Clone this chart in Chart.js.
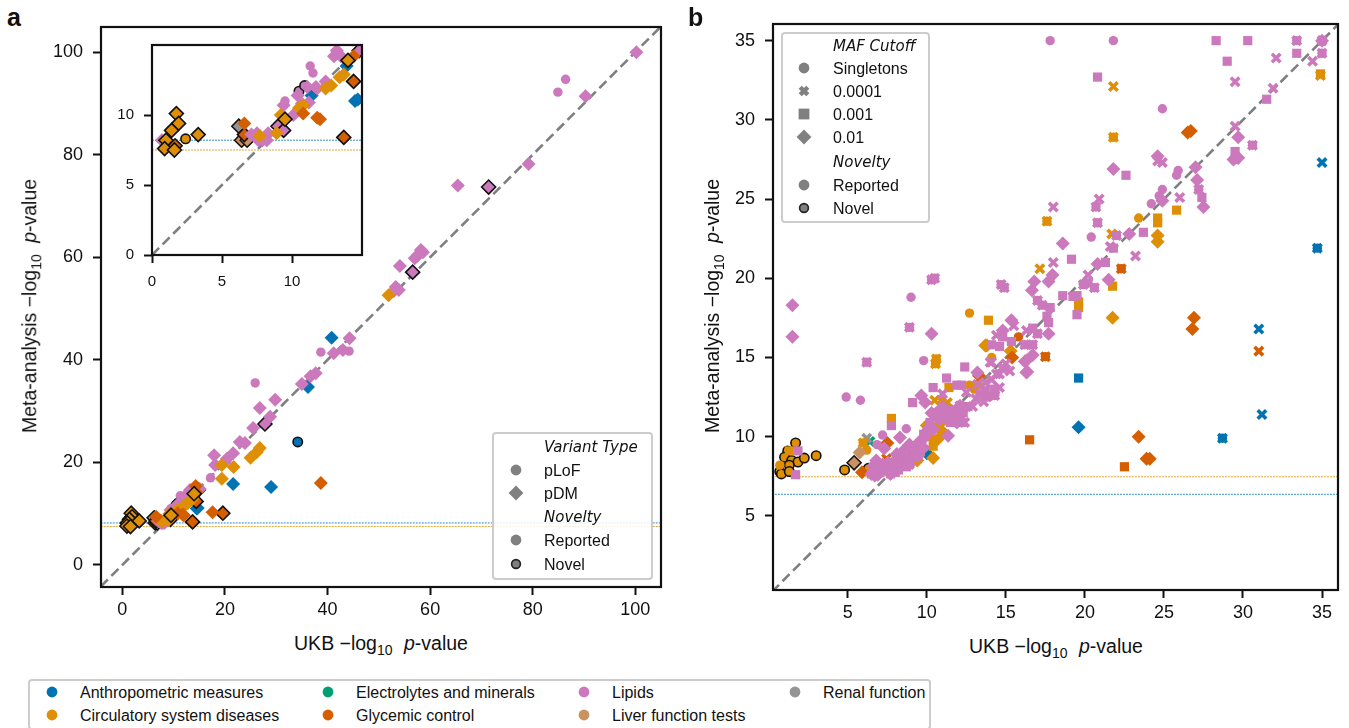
<!DOCTYPE html>
<html>
<head>
<meta charset="utf-8">
<title>UKB vs meta-analysis</title>
<script src="https://cdn.jsdelivr.net/npm/chart.js@4"></script>
<style>
  html, body { margin: 0; padding: 0; background: #fff; }
  body { width: 1349px; height: 728px; overflow: hidden; position: relative; font-family: "Liberation Sans", sans-serif; color: #111; }
  canvas { position: absolute; }
  .label { position: absolute; white-space: nowrap; line-height: 1; }
  .title { font-size: 19.5px; transform: translate(-50%, -50%); }
  .title.rot { transform: translate(-50%, -50%) rotate(-90deg); }
  .title sub { font-size: 14px; line-height: 0; margin-right: 6px; }
  .panel { font-size: 25px; font-weight: bold; }
  .box { position: absolute; box-sizing: border-box; border: 2.5px solid #ccc; border-radius: 4px; background: rgba(255,255,255,.85); }
  .legend { font-size: 16px; transform: translateY(-50%); margin-top: 1px; }
  .legend.head { font-family: "DejaVu Sans", sans-serif; font-style: italic; font-size: 15px; }
  svg.mark { position: absolute; overflow: visible; width: 1px; height: 1px; }
</style>
</head>
<body>
<canvas id="chartA"></canvas>
<canvas id="chartInset"></canvas>
<canvas id="chartB"></canvas>
<div class="label panel" style="left:7px;top:5px">a</div>
<div class="label panel" style="left:688px;top:5px">b</div>
<div class="label title" style="left:381px;top:644px">UKB −log<sub>10</sub> <i>p</i>-value</div>
<div class="label title" style="left:1056px;top:647px">UKB −log<sub>10</sub> <i>p</i>-value</div>
<div class="label title rot" style="left:30px;top:306px">Meta-analysis −log<sub>10</sub> <i>p</i>-value</div>
<div class="label title rot" style="left:713px;top:306px">Meta-analysis −log<sub>10</sub> <i>p</i>-value</div>
<div id="legends"></div>

<script>
const categories = ['Anthropometric measures', 'Circulatory system diseases', 'Electrolytes and minerals', 'Glycemic control', 'Lipids', 'Liver function tests', 'Renal function'];
const categoryColors = ['#0173b2', '#de8f05', '#029e73', '#d55e00', '#cc78bc', '#ca9161', '#949494'];
const variantTypes = ['pLoF', 'pDM'];
const mafCutoffs = ['Singletons', '0.0001', '0.001', '0.01'];
const noveltyLabels = ['Reported', 'Novel'];
const ticksA = [0, 20, 40, 60, 80, 100];
const ticksInset = [0, 5, 10];
const ticksB = [5, 10, 15, 20, 25, 30, 35];
const thresholdsA = [8.2, 7.5];
const thresholdsB = [6.36, 7.47];

// panel a, [UKB, meta]
const aAnthroDiamond = [[40.8,44.3],[36.2,34.7],[21.6,15.8],[29,15.2],[14.7,11.1],[11.4,11.4],[14.5,11],[13.9,13.5]];
const aAnthroCircleNovel = [[34.2,24]];
const aLipidDiamond = [[100.2,100],[90.3,91.4],[79.2,78.2],[65.4,74],[58.2,61.4],[58.6,61],[57.6,60.4],[57,59.8],[54.1,58.3],[53.3,54.2],[53.9,53.6],[52.9,53.4],[44.3,44.2],[43,41.9],[41.2,41.3],[35,35.3],[36.7,36.8],[37.7,37.4],[26.8,30.6],[29.8,32.2],[28.8,28.9],[25.5,26.7],[22.9,24],[23.9,23.8],[21.6,21.8],[20.4,20.7],[17.9,21.4],[18.1,19.5],[15.1,14.8],[13.2,14.6],[13,14.2],[13.5,14.2],[10.4,11.4],[11.1,12],[11.7,12],[12.4,12.4],[11.8,11.9],[11.2,10.9],[10.7,10.8],[9.4,10.7],[10.1,10],[0.7,8.2],[7.1,8.6],[7.5,8.7],[7.9,8.2],[8.2,8.2],[8.3,8.7],[7.6,8.2]];
const aLipidDiamondNovel = [[71.4,73.7],[56.6,57.1],[27.8,27.5],[14.8,14.6],[9,9.2],[9.4,8.9]];
const aLipidCircle = [[86.4,94.7],[84.9,92.2],[38.7,41.5],[44.2,41.7],[25.9,35.5],[17.2,17],[11.3,13.5],[11.5,13],[9.5,11],[20.4,20.4]];
const aLipidCircleNovel = [[10.5,11.7],[10.9,12.1]];
const aLiverDiamondNovel = [[6.4,8.2],[6.8,8.2]];
const aRenalDiamondNovel = [[6.2,9.2]];
const aCircDiamond = [[51.9,52.6],[26.8,22.8],[26.2,22],[25,20.9],[19.4,19.5],[21.7,19.1],[19.4,16.8],[13.4,12.7],[12.8,12.1],[10.8,10.7],[12.4,11.9],[13.7,12.9],[10.5,10.5],[9.2,10],[8.9,8.7],[7.7,8.5]];
const aCircDiamondNovel = [[1.74,10.1],[1.9,9.4],[1.4,8.9],[1,8.2],[0.9,7.6],[1.6,7.5],[3.3,8.6],[9.5,9.7],[14,13.9]];
const aCircCircleNovel = [[2.4,8.3]];
const aGlycDiamond = [[38.7,16],[17.6,10.3],[12,9.7],[14.3,15.4],[14.4,14.2],[11.8,9.8],[10.8,10.1],[6.6,9.4]];
const aGlycDiamondNovel = [[19.6,10.1],[13.7,8.4],[14.4,12.4],[6.6,8.6],[1.65,7.8]];

// panel b, [UKB, meta]
const bAnthroCircle = [[34.7,21.9],[28.7,9.9]];
const bAnthroX = [[35,27.3],[34.7,21.9],[31,16.8],[31.2,11.4],[28.7,9.9]];
const bAnthroSquare = [[19.6,13.7]];
const bAnthroDiamond = [[19.6,10.6],[10,8.95]];
const bLipidCircle = [[17.8,35],[21.8,35],[24.9,30.7],[35,35],[35,34.2],[33.4,35],[30.6,28.4],[29.5,27.5],[25.9,26.8],[25.8,26.5],[27.2,25.6],[24.9,25.6],[24.2,24.7],[24.7,25.2],[20.7,24.5],[20.8,23.5],[20.4,22.6],[22,22.7],[19.9,19.6],[20.2,19.7],[20.6,19.4],[14.7,19.6],[14.9,19.4],[17,18.6],[17.3,18.3],[9,18.8],[10.3,19.9],[10.5,20],[8.9,16.9],[4.9,12.5],[5.8,12.3],[6.2,14.7],[9.8,14.8],[7.2,10.1],[8.7,10.5],[6.85,9.5],[17,16.5],[16.2,15.8],[16.7,15.8],[13.8,12.5],[14.3,12.6]];
const bLipidX = [[34.4,33.7],[32.1,33.9],[31.9,32],[29.5,32.4],[29.5,29.6],[35,35],[35,34.2],[33.4,35],[30.6,28.4],[29.5,27.5],[24.6,27.4],[24.9,27.3],[26,25.1],[27.2,25.6],[20.9,25],[18,24.5],[20.7,24.5],[20.8,23.5],[23.2,21.4],[21.6,22],[22,22.7],[18,21],[20.2,20.2],[19.9,19.6],[20.2,19.7],[20.6,19.4],[14.7,19.6],[14.9,19.4],[17,18.6],[17.3,18.3],[15.5,17],[16.3,16.7],[14.4,16.4],[14,14.7],[14.8,14.4],[15.25,14.15],[14.6,13.95],[13.7,13.4],[14.1,13.6],[13.8,12.5],[14.3,12.6],[16.2,15.8],[16.7,15.8],[17,16.5],[8.9,16.9],[6.2,14.7],[10.3,19.9],[10.5,20],[12.5,12.8],[11,12.7],[14.1,14.7],[15,14.6],[14.8,14.25],[14.4,13.95],[12.4,10.9],[7.9,8.25],[8.5,8.5],[8.9,8.25],[7.2,8.25],[10.1,10.45],[12.1,11.95],[11.6,11.6],[13.1,12.4],[13.6,12.2],[12.9,11.9],[14.6,13.1],[13.2,13.3]];
const bLipidSquare = [[28.3,35],[30.3,35],[29,33.7],[33.4,34.2],[31.5,31.3],[20.8,32.7],[22.6,26.5],[27.4,25.1],[29.5,28],[23.7,22.9],[21.8,21.9],[19.15,21.2],[21.3,21],[18.6,18.9],[19.25,18.85],[19.5,18.9],[19.5,17.7],[17.8,18.15],[17.6,17.6],[17.7,17.2],[16.7,16.85],[14.8,16.3],[15.35,16],[14.1,15.8],[14.6,15.7],[13.7,12.9],[14.3,12.9],[13.35,12.7],[14.3,13],[12.4,14.4],[11.25,13.7],[10.4,13.1],[11.9,13.25],[12.2,13.25],[9.1,12.15],[7.76,10.7],[9.8,10.15],[10.6,11.5],[11,11.85],[11.8,11.3],[11.25,11.1],[10.8,11.1],[12.3,11.5],[1.85,9.1],[1.7,7.6],[8.3,8.4],[8.9,8.9],[9.35,9.1],[7.7,7.65],[6.5,7.65],[7,7.75],[8,7.75],[9.45,8.8],[12.1,11.2],[12.2,10.9],[11.5,10.9],[11.2,11.7],[10.2,10.9],[9.6,9.1],[9.2,8.7],[8.7,8.1],[8.2,7.9],[7.4,8],[12.6,11.9]];
const bLipidDiamond = [[1.5,18.3],[1.5,16.3],[35,35],[29.7,28.9],[29.4,27.5],[29.7,27.6],[24.6,27.7],[27,27],[27.1,26.2],[27.5,24.5],[21.8,26.9],[24.9,24.9],[22.8,22.8],[18.6,22.2],[20.8,20.9],[17.95,20.2],[17.7,19.8],[16.8,19.8],[16.65,19.25],[21.5,19.9],[15.35,17.35],[14.8,16.7],[17.7,16.5],[16.7,15.15],[16.2,14.75],[16.35,14.1],[10.3,16.5],[13.2,14.05],[16.3,14.8],[16.3,14.05],[9.65,12.6],[9.9,12.15],[11.35,10.05],[7.3,9.25],[8.3,9.95],[8.9,9.5],[9.35,9.3],[8.5,9.1],[8.1,8.9],[8.9,8.7],[8.5,8.5],[7.9,8.25],[7.2,8.25],[6.8,8.5],[6.6,8.15],[6.5,7.65],[7,7.75],[7.7,7.65],[8.3,8.05],[8.9,8.25],[9.45,8.8],[9.8,9.3],[9.55,9.7],[10.1,10.45],[10.4,10.45],[10.3,11.5],[7.55,8.35],[7.2,7.85],[6.9,7.6],[6.7,7.55],[10.6,11.5],[11,11.85],[11.6,11.6],[12.1,11.95],[11.25,11.1],[10.8,11.1],[11.8,11.3],[9.9,10],[8,8.5],[11.9,10.9],[12.3,11.7],[10.9,11.5],[8.7,8.9],[9.3,8.9],[8.2,8.3],[7.7,8],[6.9,8.1]];
const bLiverDiamond = [[5.75,9]];
const bLiverDiamondNovel = [[5.4,8.35]];
const bRenalX = [[6.2,9.9]];
const bElectroX = [[6.4,9.7]];
const bCircCircle = [[21.8,28.9],[17.6,23.6],[23.4,23.8],[14.1,15],[12.7,13.25],[13,13],[13.25,13.3],[10.6,14.9],[10.55,14.6],[12.7,17.8],[5.97,9.6],[6.2,9.15],[0.7,8.2]];
const bCircX = [[21.8,32.1],[34.9,32.8],[21.8,28.9],[17.6,23.6],[21.7,22.8],[17.15,20.6],[10.5,12.3],[10.9,12.3],[11.3,12.15],[10.6,14.9],[10.55,14.6],[5.97,9.6]];
const bCircSquare = [[34.9,32.9],[24.6,23.8],[24.6,23.5],[25.8,24.3],[21.75,19.5],[19.6,18.5],[19.6,18.15],[13.9,17.35],[11.4,13.1],[7.76,11.15],[10.4,9.4],[1.3,9.1]];
const bCircDiamond = [[24.6,22.7],[24.6,22.3],[21.75,17.5],[13.7,15.75],[15.3,15.4],[10.8,10.8],[10.9,10.4],[10.7,9.85],[10,10.7],[10.3,9.95],[10.4,8.65],[9.4,8.5],[13.8,15.75]];
const bCircCircleNovel = [[1.7,9.6],[1.2,9.1],[1,8.7],[1.45,8.5],[1.85,8.4],[2.25,8.65],[3,8.8],[1.3,8.2],[0.7,7.8],[0.8,7.65],[1.3,7.8],[4.8,7.9],[6.3,8]];
const bGlycCircle = [[22.3,20.6],[15.8,16.3],[17.5,15.05]];
const bGlycX = [[22.3,20.6],[17.5,15.05],[31,15.4],[7.45,8.6]];
const bGlycSquare = [[22.5,8.1],[16.5,9.8]];
const bGlycDiamond = [[26.5,29.2],[26.7,29.3],[24.1,8.6],[23.9,8.6],[23.4,10],[26.9,17.5],[26.8,16.8],[15.4,15],[13.3,13.85],[7.5,9.6],[5.9,7.75]];

const sizes = { circle: 4.7, crossRot: 6, rect: 6.5, rectRot: 7 };

function series(data, colorIndex, shape, novel) {
    return {
        data: data,
        showLine: false,
        pointStyle: shape,
        pointRadius: sizes[shape],
        pointBackgroundColor: categoryColors[colorIndex],
        pointBorderColor: novel ? '#111' : categoryColors[colorIndex],
        pointBorderWidth: novel ? 1.6 : (shape === 'crossRot' ? 3.6 : 0)
    };
}

function refLine(x0, y0, x1, y1, color, width, dash) {
    return {
        data: [[x0, y0], [x1, y1]],
        showLine: true,
        pointRadius: 0,
        borderColor: color,
        borderWidth: width,
        borderDash: dash
    };
}

function pointsA() {
    return [
        series(aAnthroDiamond, 0, 'rectRot'),
        series(aLipidCircleNovel, 4, 'circle', true),
        series(aLipidCircle, 4, 'circle'),
        series(aLipidDiamondNovel, 4, 'rectRot', true),
        series(aLiverDiamondNovel, 5, 'rectRot', true),
        series(aRenalDiamondNovel, 6, 'rectRot', true),
        series(aGlycDiamondNovel, 3, 'rectRot', true),
        series(aLipidDiamond, 4, 'rectRot'),
        series(aAnthroCircleNovel, 0, 'circle', true),
        series(aCircDiamond, 1, 'rectRot'),
        series(aGlycDiamond, 3, 'rectRot'),
        series(aCircCircleNovel, 1, 'circle', true),
        series(aCircDiamondNovel, 1, 'rectRot', true)
    ];
}

function pointsB() {
    return [
        series(bAnthroDiamond, 0, 'rectRot'),
        series(bAnthroSquare, 0, 'rect'),
        series(bAnthroCircle, 0, 'circle'),
        series(bAnthroX, 0, 'crossRot'),
        series(bElectroX, 2, 'crossRot'),
        series(bRenalX, 6, 'crossRot'),
        series(bCircCircleNovel, 1, 'circle', true),
        series(bCircCircle, 1, 'circle'),
        series(bCircX, 1, 'crossRot'),
        series(bCircSquare, 1, 'rect'),
        series(bCircDiamond, 1, 'rectRot'),
        series(bLiverDiamond, 5, 'rectRot'),
        series(bLiverDiamondNovel, 5, 'rectRot', true),
        series(bGlycCircle, 3, 'circle'),
        series(bGlycX, 3, 'crossRot'),
        series(bGlycSquare, 3, 'rect'),
        series(bGlycDiamond, 3, 'rectRot'),
        series(bLipidCircle, 4, 'circle'),
        series(bLipidX, 4, 'crossRot'),
        series(bLipidSquare, 4, 'rect'),
        series(bLipidDiamond, 4, 'rectRot')
    ];
}

const framePlugin = {
    id: 'frame',
    afterDraw(chart) {
        const a = chart.chartArea;
        const ctx = chart.ctx;
        ctx.save();
        ctx.strokeStyle = '#111';
        ctx.lineWidth = 2.2;
        ctx.strokeRect(a.left, a.top, a.right - a.left, a.bottom - a.top);
        ctx.restore();
    }
};

function makeChart(id, area, xRange, yRange, xTicks, yTicks, fontSize, xPad, datasets) {
    const leftGap = 70, bottomGap = 40, topGap = 24, rightGap = 24;
    const canvas = document.getElementById(id);
    canvas.width = area.right - area.left + leftGap + rightGap;
    canvas.height = area.bottom - area.top + topGap + bottomGap;
    canvas.style.left = (area.left - leftGap) + 'px';
    canvas.style.top = (area.top - topGap) + 'px';

    datasets.forEach((d, i) => { d.order = -i; });

    const axis = (range, tickValues, gapKey, gap, pad) => ({
        type: 'linear',
        min: range[0],
        max: range[1],
        grid: { drawOnChartArea: false, tickLength: 8, tickWidth: 2, tickColor: '#111' },
        border: { display: false },
        ticks: { color: '#111', font: { family: '"Liberation Sans"', size: fontSize }, padding: pad, maxRotation: 0, autoSkip: false, includeBounds: false },
        afterBuildTicks(scale) { scale.ticks = tickValues.map(v => ({ value: v })); },
        afterFit(scale) { scale[gapKey] = gap; }
    });

    return new Chart(canvas, {
        type: 'scatter',
        data: { datasets: datasets },
        options: {
            responsive: false,
            animation: false,
            layout: { padding: { top: topGap, right: rightGap, left: 0, bottom: 0 } },
            plugins: { legend: { display: false }, tooltip: { enabled: false } },
            scales: {
                x: axis(xRange, xTicks, 'height', bottomGap, xPad),
                y: axis(yRange, yTicks, 'width', leftGap, 10)
            }
        },
        plugins: [framePlugin]
    });
}

const diagA = [-4.2, 105];
const linesA = [
    refLine(diagA[0], diagA[0], diagA[1], diagA[1], '#7f7f7f', 2.6, [10, 5]),
    refLine(diagA[0], thresholdsA[0], diagA[1], thresholdsA[0], '#0173b2', 0.8, [2, 1]),
    refLine(diagA[0], thresholdsA[1], diagA[1], thresholdsA[1], '#de8f05', 0.8, [2, 1])
];
const linesInset = [
    refLine(0, 0, 15, 15, '#7f7f7f', 2.6, [10, 5]),
    refLine(0, thresholdsA[0], 15, thresholdsA[0], '#0173b2', 0.8, [2, 1]),
    refLine(0, thresholdsA[1], 15, thresholdsA[1], '#de8f05', 0.8, [2, 1])
];
const linesB = [
    refLine(0.2, 0.2, 36.1, 36.1, '#7f7f7f', 2.6, [10, 5]),
    refLine(0.2, thresholdsB[0], 36.1, thresholdsB[0], '#0173b2', 0.8, [2, 1]),
    refLine(0.2, thresholdsB[1], 36.1, thresholdsB[1], '#de8f05', 0.8, [2, 1])
];

makeChart('chartA', { left: 101, right: 661, top: 27, bottom: 587 }, [-4.15, 105], [-4.29, 104.9], ticksA, ticksA, 18, 4, linesA.concat(pointsA()));
makeChart('chartInset', { left: 152, right: 362, top: 45, bottom: 255 }, [0, 15], [0, 15], ticksInset, ticksInset, 15, 10, linesInset.concat(pointsA()));
makeChart('chartB', { left: 773, right: 1338, top: 24, bottom: 590 }, [0.27, 36.01], [0.32, 36.05], ticksB, ticksB, 18, 4, linesB.concat(pointsB()));

// legends are plain HTML since the headers and layout are not what Chart.js legend does
const legendRoot = document.getElementById('legends');

function markSvg(x, y, shape, fill, novel) {
    const stroke = novel ? ' stroke="#222" stroke-width="1.6"' : '';
    let body = '';
    if (shape === 'circle') body = `<circle r="${novel ? 4.4 : 5.4}" fill="${fill}"${stroke}/>`;
    if (shape === 'rect') body = `<rect x="-5.4" y="-5.4" width="10.8" height="10.8" fill="${fill}"/>`;
    if (shape === 'rectRot') body = `<path d="M0 -7.4L7.4 0L0 7.4L-7.4 0Z" fill="${fill}"/>`;
    if (shape === 'crossRot') body = `<path d="M-3.8 -3.8L3.8 3.8M-3.8 3.8L3.8 -3.8" stroke="${fill}" stroke-width="4.4"/>`;
    return `<svg class="mark" style="left:${x}px;top:${y}px">${body}</svg>`;
}

function legendText(x, y, text, head) {
    return `<div class="label legend${head ? ' head' : ''}" style="left:${x}px;top:${y}px">${text}</div>`;
}

function box(left, top, right, bottom) {
    return `<div class="box" style="left:${left}px;top:${top}px;width:${right - left}px;height:${bottom - top}px"></div>`;
}

let legendHtml = box(492, 432, 653, 580);
legendHtml += legendText(544, 446, 'Variant Type', true);
legendHtml += markSvg(516, 470, 'circle', '#808080') + legendText(544, 470, variantTypes[0]);
legendHtml += markSvg(516, 493, 'rectRot', '#808080') + legendText(544, 493, variantTypes[1]);
legendHtml += legendText(544, 516, 'Novelty', true);
legendHtml += markSvg(516, 540, 'circle', '#808080') + legendText(544, 540, noveltyLabels[0]);
legendHtml += markSvg(516, 564, 'circle', '#808080', true) + legendText(544, 564, noveltyLabels[1]);

legendHtml += box(781, 32, 930, 223);
legendHtml += legendText(833, 45, 'MAF Cutoff', true);
const mafShapes = ['circle', 'crossRot', 'rect', 'rectRot'];
const mafRows = [68, 91, 114, 137];
mafCutoffs.forEach((m, i) => {
    legendHtml += markSvg(804, mafRows[i], mafShapes[i], '#808080') + legendText(833, mafRows[i], m);
});
legendHtml += legendText(833, 161, 'Novelty', true);
legendHtml += markSvg(804, 185, 'circle', '#808080') + legendText(833, 185, noveltyLabels[0]);
legendHtml += markSvg(804, 208, 'circle', '#808080', true) + legendText(833, 208, noveltyLabels[1]);

legendHtml += box(28, 679, 931, 730);
const catX = [52, 52, 328, 328, 584, 584, 795];
const catY = [692, 715, 692, 715, 692, 715, 692];
categories.forEach((c, i) => {
    legendHtml += markSvg(catX[i], catY[i], 'circle', categoryColors[i]) + legendText(catX[i] + 28, catY[i], c);
});
legendRoot.innerHTML = legendHtml;
</script>
</body>
</html>
